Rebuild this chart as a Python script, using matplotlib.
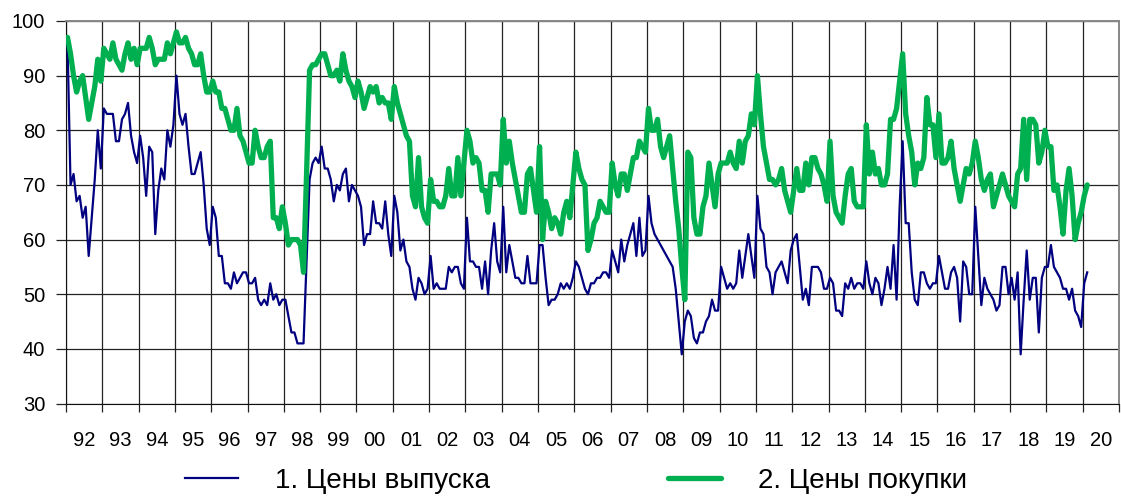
import numpy as np
import matplotlib
matplotlib.use('Agg')
from matplotlib import pyplot as plt

plt.rcParams['font.family'] = ['Liberation Sans', 'DejaVu Sans']

# monthly survey series, Jan 1992 .. Feb 2020
start_year = 1992
output_prices = [
    96, 70, 72, 67, 68, 64, 66, 57, 64, 71, 80, 73,
    84, 83, 83, 83, 78, 78, 82, 83, 85, 79, 76, 74,
    79, 75, 68, 77, 76, 61, 69, 73, 71, 80, 77, 81,
    90, 83, 81, 83, 77, 72, 72, 74, 76, 70, 62, 59,
    66, 64, 57, 57, 52, 52, 51, 54, 52, 53, 54, 54,
    52, 52, 53, 49, 48, 49, 48, 52, 49, 50, 48, 49,
    49, 46, 43, 43, 41, 41, 41, 56, 71, 74, 75, 74,
    77, 73, 73, 71, 67, 70, 69, 72, 73, 67, 70, 69,
    68, 66, 59, 61, 61, 67, 63, 63, 62, 67, 61, 57,
    68, 65, 58, 60, 56, 55, 51, 49, 53, 52, 50, 51,
    57, 51, 52, 51, 51, 51, 55, 54, 55, 55, 52, 51,
    64, 56, 56, 55, 55, 51, 56, 50, 58, 63, 56, 54,
    66, 54, 59, 56, 53, 53, 52, 52, 57, 52, 52, 52,
    59, 59, 53, 48, 49, 49, 50, 52, 51, 52, 51, 53,
    56, 55, 53, 51, 50, 52, 52, 53, 53, 54, 54, 53,
    58, 56, 54, 60, 56, 59, 61, 63, 57, 64, 57, 58,
    68, 63, 61, 60, 59, 58, 57, 56, 55, 51, 45, 39,
    45, 47, 46, 42, 41, 43, 43, 45, 46, 49, 47, 47,
    55, 53, 51, 52, 51, 52, 58, 53, 57, 61, 57, 53,
    68, 62, 61, 55, 54, 50, 54, 55, 56, 54, 52, 58,
    60, 61, 55, 49, 51, 48, 55, 55, 55, 54, 51, 51,
    53, 52, 47, 47, 46, 52, 51, 53, 51, 52, 52, 51,
    56, 52, 50, 53, 52, 48, 51, 55, 51, 59, 49, 66,
    78, 63, 63, 54, 49, 48, 54, 54, 52, 51, 52, 52,
    57, 54, 51, 51, 54, 55, 53, 45, 56, 55, 50, 50,
    66, 57, 48, 53, 51, 50, 49, 47, 48, 55, 55, 50,
    53, 49, 54, 39, 49, 58, 49, 53, 53, 43, 53, 55,
    55, 59, 55, 54, 53, 51, 51, 49, 51, 47, 46, 44,
    52, 54,
]
input_prices = [
    97, 94, 90, 87, 89, 90, 86, 82, 85, 88, 93, 89,
    95, 94, 93, 96, 93, 92, 91, 94, 96, 93, 95, 92,
    95, 95, 95, 97, 95, 92, 93, 93, 93, 96, 94, 96,
    98, 96, 96, 97, 95, 94, 92, 92, 94, 90, 87, 87,
    89, 87, 87, 84, 84, 82, 80, 80, 84, 79, 78, 76,
    74, 74, 80, 77, 75, 75, 77, 78, 64, 64, 62, 66,
    63, 59, 60, 60, 60, 59, 54, 72, 91, 92, 92, 93,
    94, 94, 92, 90, 90, 91, 89, 94, 91, 89, 88, 86,
    89, 87, 84, 86, 88, 87, 88, 85, 86, 85, 85, 82,
    88, 85, 83, 81, 79, 78, 68, 66, 75, 66, 64, 63,
    71, 67, 67, 66, 66, 68, 73, 68, 68, 75, 68, 74,
    80, 78, 74, 75, 74, 69, 69, 65, 72, 72, 72, 70,
    82, 74, 78, 74, 71, 68, 65, 65, 72, 73, 69, 65,
    77, 60, 67, 65, 62, 64, 63, 61, 65, 67, 64, 70,
    76, 73, 71, 70, 58, 60, 63, 64, 67, 66, 65, 65,
    74, 70, 68, 72, 72, 69, 72, 75, 75, 78, 77, 76,
    84, 80, 80, 82, 77, 75, 77, 79, 73, 67, 62, 55,
    49, 76, 75, 64, 61, 61, 66, 68, 74, 70, 66, 72,
    74, 74, 74, 76, 74, 73, 78, 74, 78, 79, 83, 81,
    90, 83, 77, 74, 71, 71, 70, 71, 73, 69, 67, 65,
    69, 73, 69, 69, 74, 70, 75, 75, 73, 72, 70, 67,
    78, 68, 65, 64, 63, 68, 72, 73, 67, 66, 66, 66,
    81, 72, 76, 72, 73, 70, 70, 72, 82, 82, 84, 89,
    94, 83, 79, 76, 70, 74, 73, 75, 86, 81, 81, 75,
    83, 74, 74, 75, 78, 73, 70, 67, 70, 73, 72, 74,
    78, 75, 71, 69, 71, 72, 66, 68, 70, 72, 70, 68,
    67, 66, 72, 73, 82, 71, 82, 82, 81, 74, 76, 80,
    77, 77, 69, 70, 66, 61, 69, 73, 68, 60, 63, 65,
    68, 70,
]
year_labels = ['92', '93', '94', '95', '96', '97', '98', '99', '00', '01',
               '02', '03', '04', '05', '06', '07', '08', '09', '10', '11',
               '12', '13', '14', '15', '16', '17', '18', '19', '20']
series_names = ['1. Цены выпуска', '2. Цены покупки']


def draw_chart():
    n = len(output_prices)
    x = start_year + (np.arange(n) + 0.5) / 12.0
    last_year = start_year + len(year_labels)

    fig = plt.figure(figsize=(11.21, 4.96), dpi=100)
    ax = fig.add_axes([66 / 1121, 1 - 403.5 / 496, (1119 - 66) / 1121, (403.5 - 21) / 496])

    l1, = ax.plot(x, output_prices, color='#000080', lw=1.6, zorder=3)
    l2, = ax.plot(x, input_prices, color='#00B050', lw=3.8, zorder=4,
                  solid_joinstyle='round', solid_capstyle='round')

    ax.set_xlim(start_year, last_year)
    ax.set_ylim(30, 100)
    ax.set_yticks(range(30, 101, 10))
    ax.set_xticks(range(start_year, last_year + 1))
    ax.set_xticklabels([])
    ax.set_xticks(np.arange(len(year_labels)) + start_year + 0.5, minor=True)
    ax.set_xticklabels(year_labels, minor=True)

    ax.grid(True, which='major', color='#222222', lw=0.9)
    ax.tick_params(axis='x', which='major', length=6, width=0.9, color='#222222')
    ax.tick_params(axis='x', which='minor', length=0, pad=20, labelsize=14.5)
    ax.tick_params(axis='y', length=7, width=0.9, color='#222222', pad=8, labelsize=14.5)
    for side in ['left', 'bottom']:
        ax.spines[side].set_color('#111111')
    for side in ['top', 'right']:
        ax.spines[side].set_color('#888888')
        ax.spines[side].set_linewidth(1.4)

    fig.legend([l1, l2], series_names, loc='center', bbox_to_anchor=(576 / 1121, 1 - 481 / 496),
               ncol=2, frameon=False, fontsize=20, handlelength=1.9, handletextpad=1.35,
               columnspacing=6.4)

    fig.savefig('out.png', dpi=100)


draw_chart()
